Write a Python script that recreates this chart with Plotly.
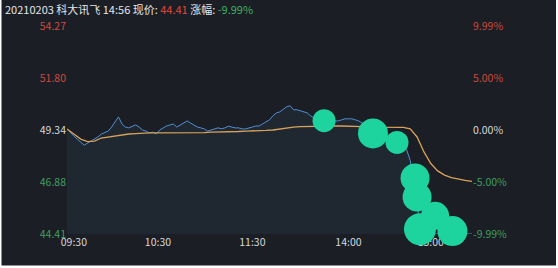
import plotly.graph_objects as go

# ---- data ----
minute_index = list(range(0, 237, 2))  # minutes since 09:30 (trading minutes), every 2 min up to 14:56
price = [
    49.39, 49.20, 49.05, 48.91, 48.77, 48.62, 48.72, 48.81, 48.91, 49.01,
    49.15, 49.24, 49.29, 49.48, 49.72, 49.96, 49.63, 49.48, 49.44, 49.53,
    49.58, 49.48, 49.34, 49.29, 49.20, 49.24, 49.16, 49.34, 49.44, 49.53,
    49.58, 49.62, 49.48, 49.58, 49.67, 49.77, 49.67, 49.58, 49.48, 49.44,
    49.39, 49.29, 49.34, 49.39, 49.44, 49.40, 49.44, 49.52, 49.48, 49.44,
    49.44, 49.39, 49.39, 49.42, 49.48, 49.53, 49.53, 49.63, 49.72, 49.82,
    50.01, 50.15, 50.20, 50.30, 50.44, 50.49, 50.30, 50.30, 50.25, 50.20,
    50.15, 50.01, 49.91, 49.87, 49.82, 49.77, 49.77, 49.77, 49.77, 49.77,
    49.82, 49.87, 49.87, 49.87, 49.82, 49.77, 49.67, 49.58, 49.44, 49.29,
    49.20, 49.10, 49.05, 49.01, 48.96, 48.86, 48.81, 48.72, 48.62, 48.38,
    47.90, 47.04, 45.75, 44.79, 44.41, 44.41, 44.41, 44.41, 44.41, 44.41,
    44.41, 44.41, 44.41, 44.41, 44.41, 44.41, 44.41, 44.41, 44.41,
]

avg_index = list(range(0, 237, 4))
avg_price = [
    49.39, 49.15, 48.91, 48.79, 48.81, 48.96, 49.01, 49.05, 49.10, 49.15,
    49.17, 49.20, 49.20, 49.20, 49.20, 49.20, 49.20, 49.22, 49.22, 49.22,
    49.22, 49.24, 49.24, 49.24, 49.26, 49.27, 49.29, 49.29, 49.31, 49.32,
    49.34, 49.39, 49.44, 49.48, 49.50, 49.51, 49.53, 49.53, 49.53, 49.53,
    49.53, 49.53, 49.51, 49.50, 49.48, 49.48, 49.48, 49.48, 49.48, 49.46,
    49.39, 49.01, 48.30, 47.75, 47.40, 47.20, 47.08, 47.00, 46.95, 46.90,
]

# green blot marks over the chart
blot_index = [149.8, 178.3, 192.3, 202.8, 204.0, 214.5, 205.7, 224.6, 213.0, 217.0, 208.0]
blot_price = [49.78, 49.18, 48.75, 47.07, 46.16, 45.27, 44.64, 44.55, 44.05, 43.85, 43.95]
blot_size = [23, 30, 23, 29, 29, 28, 32, 30, 30, 26, 28]

price_ticks = [54.27, 51.80, 49.34, 46.88, 44.41]
price_tick_colors = ["#cc4a3e", "#cc4a3e", "#d6d9de", "#3f9f62", "#3f9f62"]
pct_ticks = [9.99, 5.00, 0.00, -5.00, -9.99]
pct_labels = ["9.99%", "5.00%", "0.00%", "-5.00%", "-9.99%"]
time_labels = ["09:30", "10:30", "11:30", "14:00", "15:00"]
time_label_index = [4, 53, 108, 164, 212]

header_parts = [("20210203 科大讯飞 14:56 现价: ", "#e4e6ea"), ("44.41", "#e0483c"),
                (" 涨幅: ", "#e4e6ea"), ("-9.99%", "#3fae6a")]

BG = "#1b1e24"
W, H = 558, 268
ML, MR, MT, MB = 67, 86, 26, 34
PW, PH = W - ML - MR, H - MT - MB

fig = go.Figure()
fig.add_trace(go.Scatter(x=minute_index, y=price, mode="lines",
                         line=dict(color="#4f8fd4", width=1),
                         fill="tozeroy", fillcolor="#1f2731", hoverinfo="skip"))
fig.add_trace(go.Scatter(x=avg_index, y=avg_price, mode="lines",
                         line=dict(color="#d9a25a", width=1.3), hoverinfo="skip"))
fig.add_trace(go.Scatter(x=[0], y=[0], yaxis="y2", mode="markers",
                         marker=dict(opacity=0), hoverinfo="skip"))
fig.add_trace(go.Scatter(x=blot_index, y=blot_price, mode="markers", cliponaxis=False,
                         marker=dict(size=blot_size, color="#1dd39e", opacity=1, line=dict(width=0)),
                         hoverinfo="skip"))

def px_to_paper_x(px):
    return (px - ML) / PW

def py_to_paper_y(py):
    return (H - MB - py) / PH

fig.add_shape(type="rect", xref="paper", yref="paper", layer="below",
              x0=px_to_paper_x(1.5), x1=px_to_paper_x(556), y0=py_to_paper_y(265.5), y1=py_to_paper_y(-2),
              fillcolor=BG, line=dict(width=0))

header = "".join(f'<span style="color:{c}">{t}</span>' for t, c in header_parts)
fig.add_annotation(text=header, xref="paper", yref="paper", x=px_to_paper_x(3), y=py_to_paper_y(9),
                   xanchor="left", yanchor="middle", showarrow=False,
                   font=dict(size=11, family="Noto Sans CJK SC, Noto Sans"))

fig.update_layout(
    width=W, height=H, margin=dict(l=ML, r=MR, t=MT, b=MB),
    paper_bgcolor="white", plot_bgcolor=BG, showlegend=False,
    font=dict(family="Noto Sans CJK SC, Noto Sans", size=10.5, color="#d6d9de"),
    xaxis=dict(range=[0, 236], tickvals=time_label_index, ticktext=time_labels,
               showgrid=False, zeroline=False, showline=False, ticks="",
               layer="below traces", tickfont=dict(color="#d6d9de", size=10.5)),
    yaxis=dict(range=[44.41, 54.27], tickvals=price_ticks,
               ticktext=[f'<span style="color:{c}">{v:.2f}</span>' for v, c in zip(price_ticks, price_tick_colors)],
               showgrid=False, zeroline=False, showline=False, ticks="", layer="below traces"),
    yaxis2=dict(range=[-9.99, 9.99], overlaying="y", side="right", tickvals=pct_ticks,
                ticktext=[f'<span style="color:{c}">{t}</span>' for t, c in zip(pct_labels, price_tick_colors)],
                showgrid=False, zeroline=False, showline=False, ticks="", layer="below traces"),
)

fig.write_html("out.html")
